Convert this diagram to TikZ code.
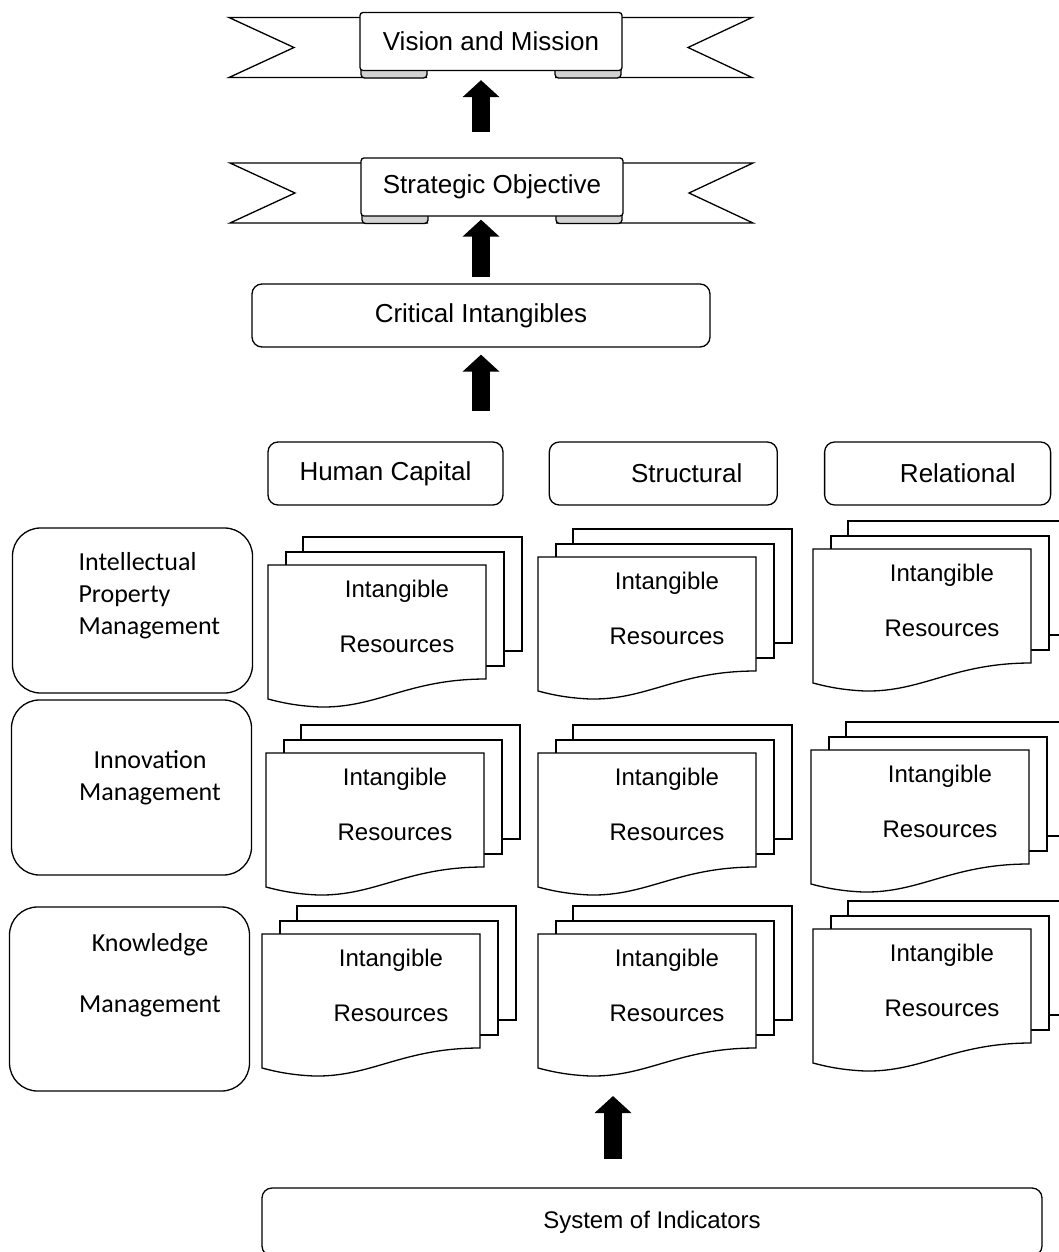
\documentclass[tikz,border=0pt]{standalone}
\usepackage{fontspec}
\setmainfont{Liberation Sans}
\newfontfamily\calibri{Carlito}
\usetikzlibrary{positioning,arrows.meta}

\tikzset{
  outline/.style={draw, line width=1.3pt},
  sheet/.style={outline, fill=white},
  ribbonbox/.style={outline, fill=white, rounded corners=3pt, minimum width=262pt,
    minimum height=58pt, inner sep=0pt, font=\fontsize{26}{31}\selectfont},
  roundbox/.style={outline, rounded corners=10pt, inner ysep=0pt, font=\fontsize{26}{31}\selectfont},
  capbox/.style={roundbox, minimum height=63pt, inner xsep=35pt, align=right},
  mgmtbox/.style={outline, rounded corners=28pt, minimum width=240pt},
  mgmttext/.style={font=\calibri\fontsize{26}{32}\selectfont},
  doctext/.style={align=center, font=\fontsize{24}{29}\selectfont},
  bigarrow/.style={line width=18pt, -{Triangle[width=36pt,length=17pt]}},
}

% banner with forked tails and rolled folds, text box on top
\newcommand{\ribbon}[4]{%
  \begin{scope}[shift={(#2,#3)}]
    \draw[outline] (-120,-24) -- (-262,-24) -- (-197,6) -- (-262,36) -- (-64,36);
    \draw[outline] (120,-24) -- (261,-24) -- (197,6) -- (261,36) -- (64,36);
    \draw[outline, fill=gray!35, rounded corners=3.5pt] (-130,20) rectangle (-64,36.5);
    \draw[outline, fill=gray!35, rounded corners=3.5pt] (64,20) rectangle (130,36.5);
  \end{scope}
  \node[ribbonbox] (#1) at (#2,#3) {#4};}

% three stacked sheets, front one with a wavy foot
\newcommand{\docstack}[3]{%
  \begin{scope}[shift={(#2,#3)}]
    \draw[sheet] (35,-28) rectangle (254,86);
    \draw[sheet] (18,-13) rectangle (236,101);
    \draw[sheet] (0,0) -- (218,0) -- (218,114)
      .. controls (140,114) and (110,143) .. (52,142)
      .. controls (30,141) and (15,138) .. (0,134) -- cycle;
    \node[doctext] (#1) at (129,51) {Intangible\\[26pt]Resources};
  \end{scope}}

\begin{document}
\begin{tikzpicture}[x=1pt, y=-1pt]
  \useasboundingbox (0,0) rectangle (1059,1252);
  \fill[white] (0,0) rectangle (1059,1252);
  \clip (0,0) rectangle (1059,1252);

  \ribbon{vision}{491}{41.5}{Vision and Mission}
  \ribbon{strategic}{492}{187}{Strategic Objective}

  \node[roundbox, minimum width=458pt, minimum height=63pt] (crit) at (481,315.5) {Critical Intangibles};

  \node[roundbox, minimum width=235pt, minimum height=63pt] (hc) at (385.5,473.5) {Human Capital};
  \node[capbox, text width=158pt, right=45pt of hc] (st) {Structural};
  \node[capbox, text width=156pt, right=46pt of st] (rel) {Relational};

  \node[mgmtbox, minimum height=165pt] (ipm) at (132.5,610.5) {};
  \node[mgmttext, anchor=west, align=left] (ipm-label) at (75,596) {Intellectual\\Property\\Management};
  \node[mgmtbox, minimum height=175pt] (inn) at (131.5,787.5) {};
  \node[mgmttext, align=center] (inn-label) at (150,778) {Innovation\\Management};
  \node[mgmtbox, minimum height=184pt] (km) at (129.5,999) {};
  \node[mgmttext, align=center] (km-label) at (150,975) {Knowledge\\[29pt]Management};

  \docstack{ipm-hc}{268}{565}
  \docstack{ipm-st}{538}{557}
  \docstack{ipm-rel}{813}{549}
  \docstack{inn-hc}{266}{753}
  \docstack{inn-st}{538}{753}
  \docstack{inn-rel}{811}{750}
  \docstack{km-hc}{262}{934}
  \docstack{km-st}{538}{934}
  \docstack{km-rel}{813}{929}

  \node[roundbox, minimum width=780pt, minimum height=68pt, font=\fontsize{24}{29}\selectfont] (sys) at (652,1222) {System of Indicators};
  \coordinate (km-st-foot) at (613,1096);

  \draw[bigarrow, shorten <=25pt, shorten >=9pt] (strategic.north -| crit) -- (vision.south -| crit);
  \draw[bigarrow, shorten <=6pt, shorten >=3pt] (crit.north) -- (strategic.south -| crit);
  \draw[bigarrow, shorten <=30pt, shorten >=7pt] (crit.south |- hc.north) -- (crit.south);
  \draw[bigarrow, shorten <=28pt] (sys.north -| km-st-foot) -- (km-st-foot);
\end{tikzpicture}
\end{document}
